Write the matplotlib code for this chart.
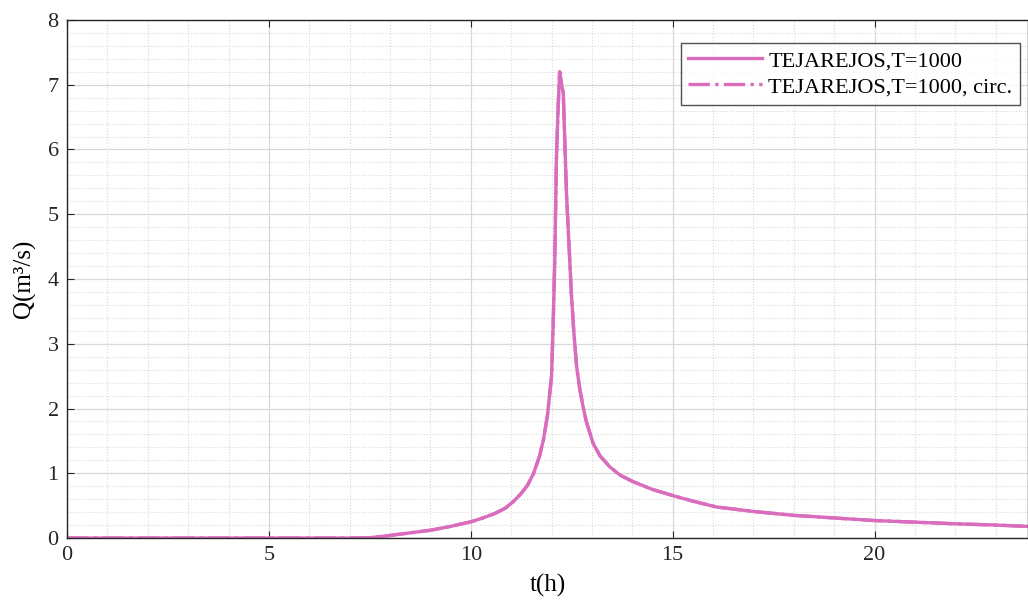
import numpy as np
import matplotlib
matplotlib.use("Agg")
import matplotlib.pyplot as plt
from matplotlib.ticker import MultipleLocator

# hydrograph (t in hours, Q in m3/s)
t = [0, 7.0, 7.5, 8.0, 8.5, 9.0, 9.5, 10.0, 10.3, 10.6, 10.85, 11.05, 11.25,
     11.4, 11.55, 11.7, 11.8, 11.9, 12.0, 12.04, 12.08, 12.12, 12.16, 12.2,
     12.25, 12.29, 12.37, 12.49, 12.55, 12.62, 12.7, 12.78, 12.86, 13.03,
     13.2, 13.44, 13.7, 14.02, 14.5, 15.09, 15.5, 16.08, 17.0, 18.0, 19.0,
     20.0, 21.0, 22.0, 23.0, 23.8]
q = [0, 0, 0.005, 0.04, 0.08, 0.12, 0.18, 0.25, 0.31, 0.38, 0.46, 0.56, 0.69,
     0.81, 0.99, 1.26, 1.52, 1.9, 2.5, 3.3, 4.29, 5.84, 6.6, 7.2,
     7.0, 6.87, 5.32, 3.78, 3.2, 2.65, 2.3, 2.03, 1.8, 1.46,
     1.27, 1.10, 0.97, 0.87, 0.75, 0.64, 0.57, 0.48, 0.41, 0.35, 0.31,
     0.27, 0.245, 0.22, 0.20, 0.18]
labels = ["TEJAREJOS,T=1000", "TEJAREJOS,T=1000, circ."]

plt.rcParams['font.family'] = ['Liberation Serif', 'DejaVu Serif']

fig = plt.figure(figsize=(10.28, 6.05), dpi=100)
ax = fig.add_axes([0.0652, 0.1107, 0.9348, 0.8563])

color = '#d96cbd'
ax.plot(t, q, color=color, lw=2.4, ls='-', label=labels[0])
ax.plot(t, q, color=color, lw=2.4, ls='-.', label=labels[1])

ax.set_xlim(0, 23.8)
ax.set_ylim(0, 8)
ax.xaxis.set_major_locator(MultipleLocator(5))
ax.xaxis.set_minor_locator(MultipleLocator(1))
ax.yaxis.set_major_locator(MultipleLocator(1))
ax.yaxis.set_minor_locator(MultipleLocator(0.2))

ax.grid(which='major', color='#d8d8d8', lw=0.9, ls='-')
ax.grid(which='minor', color='#d8d8d8', lw=0.8, ls=':')
ax.set_axisbelow(True)

ax.tick_params(which='major', direction='in', length=5, labelsize=16,
               top=True, right=False, colors='#262626', pad=6)
ax.tick_params(which='minor', length=0)
for s in ax.spines.values():
    s.set_color('#262626')
    s.set_linewidth(1.0)

ax.set_xlabel('t(h)', fontsize=18, labelpad=6)
ax.set_ylabel('Q(m³/s)', fontsize=18, labelpad=8)

leg = ax.legend(loc='upper right', bbox_to_anchor=(0.992, 0.956), fontsize=16,
                frameon=True, fancybox=False, edgecolor='#262626',
                handlelength=3.3, borderpad=0.35, labelspacing=0.25,
                handletextpad=0.3, borderaxespad=0)
leg.get_frame().set_linewidth(1.0)

fig.savefig('out.png', dpi=100)
